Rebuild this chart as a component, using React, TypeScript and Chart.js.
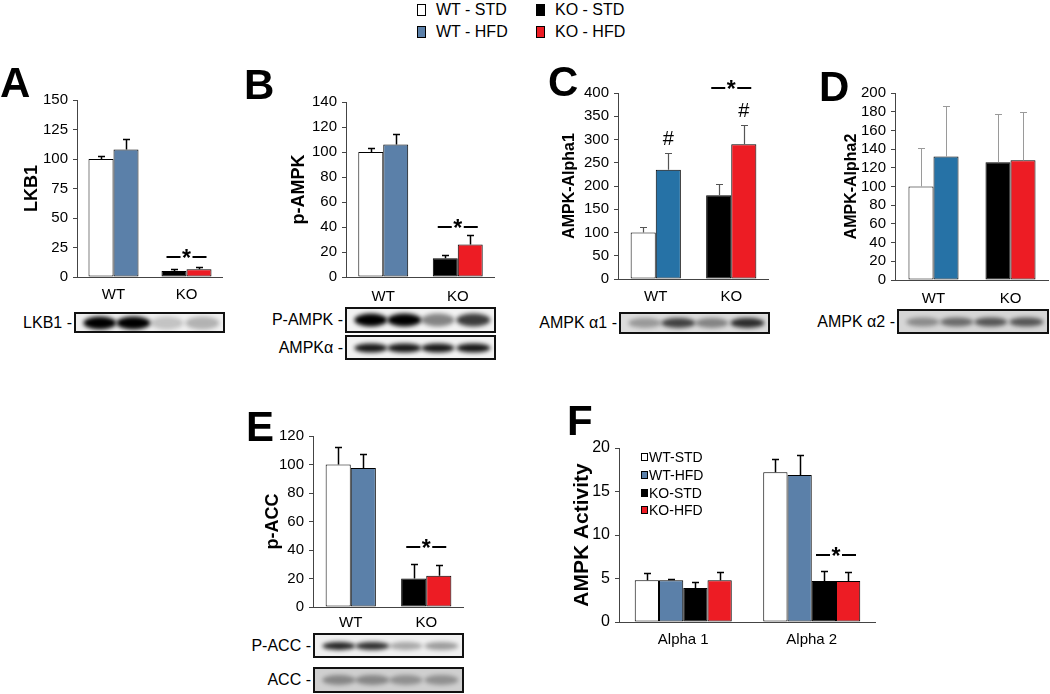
import React, { useEffect, useRef } from 'react';
import { Chart, registerables } from 'chart.js';
Chart.register(...registerables);

const FAMILY = "'Liberation Sans', Arial, Helvetica, sans-serif";
Chart.defaults.font.family = FAMILY;

const WHITE = '#ffffff';
const BLACK = '#000000';
const BLUE = '#5b80a9';
const BLUE2 = '#2672a6';
const RED = '#ed1c24';

// ---------- data ----------
const GENOTYPES = ['WT', 'KO'];
const ISOFORMS = ['Alpha 1', 'Alpha 2'];

const A_STD = [100, 5];
const A_HFD = [108, 6.5];
const A_STD_ERR = [2.5, 1.5];
const A_HFD_ERR = [9, 2];

const B_STD = [100, 15];
const B_HFD = [106, 26];
const B_STD_ERR = [3, 2.5];
const B_HFD_ERR = [8.5, 8];

const C_STD = [100, 180];
const C_HFD = [235, 290];
const C_STD_ERR = [12, 24];
const C_HFD_ERR = [35, 42];

const D_STD = [100, 126];
const D_HFD = [132, 128];
const D_STD_ERR = [41, 52];
const D_HFD_ERR = [54, 52];

const E_STD = [100, 20];
const E_HFD = [97.5, 22];
const E_STD_ERR = [12.5, 10];
const E_HFD_ERR = [10, 7.5];

const F_WT_STD = [4.8, 17.2];
const F_WT_HFD = [4.8, 16.9];
const F_KO_STD = [3.9, 4.7];
const F_KO_HFD = [4.8, 4.7];
const F_WT_STD_ERR = [0.8, 1.5];
const F_WT_HFD_ERR = [0.1, 2.3];
const F_KO_STD_ERR = [0.7, 1.2];
const F_KO_HFD_ERR = [1.0, 1.1];

// significance marks (value level on y scale)
const A_STAR = 17;
const B_STAR = 40;
const C_STAR = 410;
const C_HASH = [303, 363];
const E_STAR = 42;
const F_STAR = 7.7;

type DS = { label: string; data: number[]; errors: number[]; colors: string[] };
type Spec = {
  id: string;
  geom: { left: number; top: number; width: number; height: number; axisX: number; zeroY: number; topY: number; titleX: number; labelGap: number };
  labels: string[];
  datasets: DS[];
  yMax: number;
  yStep: number;
  title: string;
  titleSize: number;
  tickSize: number;
  catPct: number;
  errColor: string;
  errWidth: number;
  stars: { datasets: number[]; index: number; value: number }[];
  hashes: { dataset: number; index: number; value: number }[];
};

const SPECS: Spec[] = [
  {
    id: 'A',
    geom: { left: 0, top: 85, width: 223, height: 220, axisX: 77, zeroY: 277, topY: 100, titleX: 32, labelGap: 18 },
    labels: GENOTYPES,
    datasets: [
      { label: 'STD', data: A_STD, errors: A_STD_ERR, colors: [WHITE, BLACK] },
      { label: 'HFD', data: A_HFD, errors: A_HFD_ERR, colors: [BLUE, RED] },
    ],
    yMax: 150, yStep: 25, title: 'LKB1', titleSize: 18, tickSize: 15, catPct: 0.685,
    errColor: '#000', errWidth: 1.5,
    stars: [{ datasets: [0, 1], index: 1, value: A_STAR }], hashes: [],
  },
  {
    id: 'B',
    geom: { left: 270, top: 87, width: 225, height: 218, axisX: 346, zeroY: 277, topY: 102, titleX: 299, labelGap: 20 },
    labels: GENOTYPES,
    datasets: [
      { label: 'STD', data: B_STD, errors: B_STD_ERR, colors: [WHITE, BLACK] },
      { label: 'HFD', data: B_HFD, errors: B_HFD_ERR, colors: [BLUE, RED] },
    ],
    yMax: 140, yStep: 20, title: 'p-AMPK', titleSize: 18, tickSize: 15, catPct: 0.67,
    errColor: '#000', errWidth: 1.5,
    stars: [{ datasets: [0, 1], index: 1, value: B_STAR }], hashes: [],
  },
  {
    id: 'C',
    geom: { left: 545, top: 78, width: 224, height: 229, axisX: 618, zeroY: 279, topY: 93, titleX: 570, labelGap: 18 },
    labels: GENOTYPES,
    datasets: [
      { label: 'STD', data: C_STD, errors: C_STD_ERR, colors: [WHITE, BLACK] },
      { label: 'HFD', data: C_HFD, errors: C_HFD_ERR, colors: [BLUE2, RED] },
    ],
    yMax: 400, yStep: 50, title: 'AMPK-Alpha1', titleSize: 16, tickSize: 15, catPct: 0.665,
    errColor: '#555', errWidth: 1.2,
    stars: [{ datasets: [0, 1], index: 1, value: C_STAR }],
    hashes: [{ dataset: 1, index: 0, value: C_HASH[0] }, { dataset: 1, index: 1, value: C_HASH[1] }],
  },
  {
    id: 'D',
    geom: { left: 825, top: 78, width: 224, height: 230, axisX: 895, zeroY: 280, topY: 93, titleX: 852, labelGap: 19 },
    labels: GENOTYPES,
    datasets: [
      { label: 'STD', data: D_STD, errors: D_STD_ERR, colors: [WHITE, BLACK] },
      { label: 'HFD', data: D_HFD, errors: D_HFD_ERR, colors: [BLUE2, RED] },
    ],
    yMax: 200, yStep: 20, title: 'AMPK-Alpha2', titleSize: 16, tickSize: 15, catPct: 0.65,
    errColor: '#9a9a9a', errWidth: 1,
    stars: [], hashes: [],
  },
  {
    id: 'E',
    geom: { left: 245, top: 421, width: 219, height: 212, axisX: 313, zeroY: 607, topY: 436, titleX: 273, labelGap: 16 },
    labels: GENOTYPES,
    datasets: [
      { label: 'STD', data: E_STD, errors: E_STD_ERR, colors: [WHITE, BLACK] },
      { label: 'HFD', data: E_HFD, errors: E_HFD_ERR, colors: [BLUE, RED] },
    ],
    yMax: 120, yStep: 20, title: 'p-ACC', titleSize: 18, tickSize: 15, catPct: 0.665,
    errColor: '#000', errWidth: 1.5,
    stars: [{ datasets: [0, 1], index: 1, value: E_STAR }], hashes: [],
  },
  {
    id: 'F',
    geom: { left: 555, top: 433, width: 321, height: 219, axisX: 619, zeroY: 622, topY: 448, titleX: 582, labelGap: 18 },
    labels: ISOFORMS,
    datasets: [
      { label: 'WT-STD', data: F_WT_STD, errors: F_WT_STD_ERR, colors: [WHITE, WHITE] },
      { label: 'WT-HFD', data: F_WT_HFD, errors: F_WT_HFD_ERR, colors: [BLUE, BLUE] },
      { label: 'KO-STD', data: F_KO_STD, errors: F_KO_STD_ERR, colors: [BLACK, BLACK] },
      { label: 'KO-HFD', data: F_KO_HFD, errors: F_KO_HFD_ERR, colors: [RED, RED] },
    ],
    yMax: 20, yStep: 5, title: 'AMPK Activity', titleSize: 21, tickSize: 16, catPct: 0.755,
    errColor: '#000', errWidth: 1.5,
    stars: [{ datasets: [2, 3], index: 1, value: F_STAR }], hashes: [],
  },
];

function marksPlugin(spec: Spec) {
  return {
    id: 'marks' + spec.id,
    afterDatasetsDraw(chart: any) {
      const ctx = chart.ctx as CanvasRenderingContext2D;
      const ys = chart.scales.y;
      ctx.save();
      // error bars
      spec.datasets.forEach((ds, di) => {
        const meta = chart.getDatasetMeta(di);
        meta.data.forEach((el: any, i: number) => {
          const err = ds.errors[i];
          const v = ds.data[i];
          const x = Math.round(el.x) + 0.5;
          const y0 = ys.getPixelForValue(v);
          const y1 = Math.round(ys.getPixelForValue(v + err)) + 0.5;
          ctx.strokeStyle = spec.errColor;
          ctx.lineWidth = spec.errWidth;
          ctx.beginPath();
          ctx.moveTo(x, y0);
          ctx.lineTo(x, y1);
          ctx.moveTo(x - 3.5, y1);
          ctx.lineTo(x + 3.5, y1);
          ctx.stroke();
        });
      });
      // significance stars
      spec.stars.forEach((s) => {
        const xs = s.datasets.map((d) => chart.getDatasetMeta(d).data[s.index].x);
        const cx = (Math.min(...xs) + Math.max(...xs)) / 2;
        const y = Math.round(ys.getPixelForValue(s.value));
        ctx.strokeStyle = '#000';
        ctx.lineWidth = 2;
        ctx.beginPath();
        ctx.moveTo(cx - 20, y);
        ctx.lineTo(cx - 6, y);
        ctx.moveTo(cx + 6, y);
        ctx.lineTo(cx + 20, y);
        ctx.stroke();
        ctx.fillStyle = '#000';
        ctx.font = `bold 23px ${FAMILY}`;
        ctx.textAlign = 'center';
        ctx.textBaseline = 'alphabetic';
        ctx.fillText('*', cx, y + 9);
      });
      // hash marks
      spec.hashes.forEach((h) => {
        const el = chart.getDatasetMeta(h.dataset).data[h.index];
        const y = ys.getPixelForValue(h.value);
        ctx.fillStyle = '#000';
        ctx.font = `20px ${FAMILY}`;
        ctx.textAlign = 'center';
        ctx.textBaseline = 'alphabetic';
        ctx.fillText('#', el.x, y + 7);
      });
      ctx.restore();
    },
  };
}

function Panel({ spec }: { spec: Spec }) {
  const ref = useRef<HTMLCanvasElement>(null);
  useEffect(() => {
    const g = spec.geom;
    const titleLH = spec.titleSize * 1.2;
    const chart = new Chart(ref.current as HTMLCanvasElement, {
      type: 'bar',
      data: {
        labels: spec.labels,
        datasets: spec.datasets.map((d) => ({
          label: d.label,
          data: d.data,
          backgroundColor: d.colors,
          borderColor: '#000',
          borderWidth: 1,
          borderSkipped: false,
          categoryPercentage: spec.catPct,
          barPercentage: 1,
        })),
      },
      options: {
        responsive: false,
        animation: false,
        devicePixelRatio: 1,
        layout: { padding: { top: g.topY - g.top, left: 0, right: 0, bottom: 0 } },
        plugins: { legend: { display: false }, tooltip: { enabled: false } },
        scales: {
          x: {
            type: 'category',
            offset: true,
            grid: { display: false, drawTicks: false },
            border: { display: true, color: '#444', width: 1 },
            ticks: { color: '#000', font: { size: 15, family: FAMILY }, padding: g.labelGap - 9, maxRotation: 0 },
            afterFit: (s: any) => { s.height = g.top + g.height - g.zeroY; },
          },
          y: {
            min: 0,
            max: spec.yMax,
            ticks: { stepSize: spec.yStep, autoSkip: false, color: '#000', font: { size: spec.tickSize, family: FAMILY }, padding: 5 },
            grid: { display: true, drawOnChartArea: false, drawTicks: true, tickLength: 4, color: '#444' },
            border: { display: true, color: '#444', width: 1 },
            title: {
              display: true,
              text: spec.title,
              color: '#000',
              font: { size: spec.titleSize, weight: 'bold', family: FAMILY },
              padding: { top: g.titleX - g.left - titleLH / 2, bottom: 0 },
            },
            afterFit: (s: any) => { s.width = g.axisX - g.left; },
          },
        },
      } as any,
      plugins: [marksPlugin(spec)],
    });
    return () => chart.destroy();
  }, [spec]);
  const g = spec.geom;
  return (
    <canvas
      ref={ref}
      width={g.width}
      height={g.height}
      style={{ position: 'absolute', left: g.left, top: g.top, width: g.width, height: g.height }}
    />
  );
}

// ---------- decorations (blots, labels, legends) ----------
const LANES = [0.16, 0.39, 0.62, 0.86];

type BlotSpec = { label: string; x: number; y: number; w: number; h: number; lanes: number[]; band: number; bg: string };
const BLOTS: BlotSpec[] = [
  { label: 'LKB1 -', x: 74, y: 312, w: 151, h: 21, lanes: [1, 1, 0.18, 0.25], band: 13, bg: '#efefef' },
  { label: 'P-AMPK -', x: 345, y: 307, w: 151, h: 26, lanes: [1, 1, 0.45, 0.75], band: 13, bg: '#f2f2f2' },
  { label: 'AMPK\u03B1 -', x: 345, y: 335, w: 151, h: 25, lanes: [0.9, 0.9, 0.9, 0.9], band: 9, bg: '#f2f2f2' },
  { label: 'AMPK \u03B11 -', x: 619, y: 312, w: 151, h: 22, lanes: [0.3, 0.7, 0.4, 0.8], band: 10, bg: '#dcdcdc' },
  { label: 'AMPK \u03B12 -', x: 897, y: 309, w: 152, h: 25, lanes: [0.35, 0.5, 0.6, 0.6], band: 9, bg: '#d6d6d6' },
  { label: 'P-ACC -', x: 313, y: 633, w: 151, h: 25, lanes: [0.85, 0.8, 0.3, 0.35], band: 8, bg: '#f0f0f0' },
  { label: 'ACC -', x: 313, y: 667, w: 151, h: 26, lanes: [0.35, 0.35, 0.3, 0.3], band: 10, bg: '#cfcfcf' },
];

function Blot({ b }: { b: BlotSpec }) {
  return (
    <>
      <div style={{ position: 'absolute', left: b.x - 202, top: b.y + b.h / 2 - 10, width: 200, height: 20, lineHeight: '20px', textAlign: 'right', fontSize: 16, whiteSpace: 'pre' }}>
        {b.label}
      </div>
      <div style={{ position: 'absolute', left: b.x, top: b.y, width: b.w, height: b.h, boxSizing: 'border-box', border: '2px solid #111', background: b.bg, overflow: 'hidden' }}>
        {b.lanes.map((a, i) => (
          <div
            key={i}
            style={{
              position: 'absolute',
              left: `${LANES[i] * 100}%`,
              top: '50%',
              width: b.w * 0.22,
              height: b.band,
              transform: 'translate(-50%,-50%)',
              borderRadius: '50%',
              background: '#000',
              opacity: a,
              filter: 'blur(2px)',
            }}
          />
        ))}
      </div>
    </>
  );
}

const LETTERS = [
  { t: 'A', x: 0, y: 67 },
  { t: 'B', x: 244, y: 69 },
  { t: 'C', x: 548, y: 66 },
  { t: 'D', x: 819, y: 71 },
  { t: 'E', x: 246, y: 411 },
  { t: 'F', x: 567, y: 405 },
];

const TOP_LEGEND = [
  { label: 'WT - STD', color: WHITE, x: 417, y: 10 },
  { label: 'KO - STD', color: BLACK, x: 536, y: 10 },
  { label: 'WT - HFD', color: BLUE, x: 417, y: 32 },
  { label: 'KO - HFD', color: RED, x: 536, y: 32 },
];

const F_LEGEND = [
  { label: 'WT-STD', color: WHITE },
  { label: 'WT-HFD', color: BLUE },
  { label: 'KO-STD', color: BLACK },
  { label: 'KO-HFD', color: RED },
];

export default function App() {
  return (
    <div style={{ position: 'fixed', left: 0, top: 0, width: 1050, height: 694, background: '#fff', fontFamily: FAMILY, color: '#000', overflow: 'hidden' }}>
      {SPECS.map((s) => (
        <Panel key={s.id} spec={s} />
      ))}
      {BLOTS.map((b, i) => (
        <Blot key={i} b={b} />
      ))}
      {LETTERS.map((l) => (
        <div key={l.t} style={{ position: 'absolute', left: l.x, top: l.y - 5, fontSize: 42, lineHeight: 1, fontWeight: 'bold' }}>
          {l.t}
        </div>
      ))}
      {TOP_LEGEND.map((l) => (
        <div key={l.label} style={{ position: 'absolute', left: l.x, top: l.y - 10, height: 20, display: 'flex', alignItems: 'center', fontSize: 16, whiteSpace: 'pre' }}>
          <span style={{ display: 'inline-block', width: 7, height: 10, border: '1.5px solid #000', background: l.color, marginRight: 10 }} />
          {l.label}
        </div>
      ))}
      {F_LEGEND.map((l, i) => (
        <div key={l.label} style={{ position: 'absolute', left: 641, top: 457 + i * 17.8 - 9, height: 18, display: 'flex', alignItems: 'center', fontSize: 14, whiteSpace: 'pre' }}>
          <span style={{ display: 'inline-block', width: 5, height: 6, border: '1px solid #000', background: l.color, marginRight: 1 }} />
          {l.label}
        </div>
      ))}
    </div>
  );
}
